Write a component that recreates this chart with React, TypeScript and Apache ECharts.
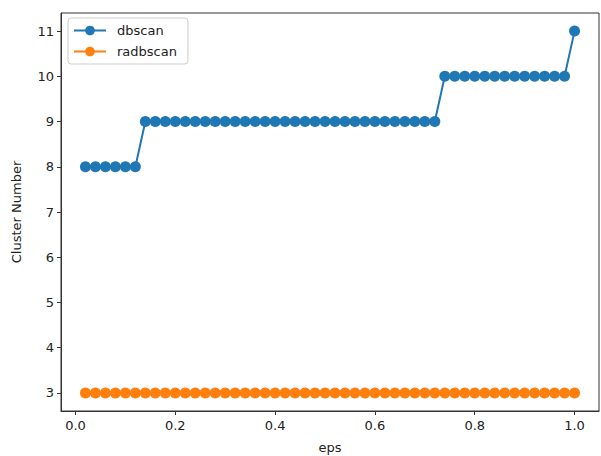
import React, { useEffect, useRef } from "react";
import * as echarts from "echarts";

const eps = [
  0.02, 0.04, 0.06, 0.08, 0.1, 0.12, 0.14, 0.16, 0.18, 0.2,
  0.22, 0.24, 0.26, 0.28, 0.3, 0.32, 0.34, 0.36, 0.38, 0.4,
  0.42, 0.44, 0.46, 0.48, 0.5, 0.52, 0.54, 0.56, 0.58, 0.6,
  0.62, 0.64, 0.66, 0.68, 0.7, 0.72, 0.74, 0.76, 0.78, 0.8,
  0.82, 0.84, 0.86, 0.88, 0.9, 0.92, 0.94, 0.96, 0.98, 1.0,
];
const dbscan = [
  8, 8, 8, 8, 8, 8, 9, 9, 9, 9,
  9, 9, 9, 9, 9, 9, 9, 9, 9, 9,
  9, 9, 9, 9, 9, 9, 9, 9, 9, 9,
  9, 9, 9, 9, 9, 9, 10, 10, 10, 10,
  10, 10, 10, 10, 10, 10, 10, 10, 10, 11,
];
const radbscan = [
  3, 3, 3, 3, 3, 3, 3, 3, 3, 3,
  3, 3, 3, 3, 3, 3, 3, 3, 3, 3,
  3, 3, 3, 3, 3, 3, 3, 3, 3, 3,
  3, 3, 3, 3, 3, 3, 3, 3, 3, 3,
  3, 3, 3, 3, 3, 3, 3, 3, 3, 3,
];
const xTicks = [0, 0.2, 0.4, 0.6, 0.8, 1.0];
const yTicks = [3, 4, 5, 6, 7, 8, 9, 10, 11];

const FONT = "DejaVu Sans";

export default function App() {
  const ref = useRef<HTMLDivElement>(null);
  useEffect(() => {
    document.body.style.margin = "0";
    const chart = echarts.init(ref.current!, null, { renderer: "svg" });
    const mk = (name: string, ys: number[], color: string) => ({
      name,
      type: "line",
      data: eps.map((x, i) => [x, ys[i]]),
      symbol: "circle",
      symbolSize: 11,
      showSymbol: true,
      lineStyle: { color, width: 2 },
      itemStyle: { color, borderWidth: 0 },
      emphasis: { disabled: true },
    });
    chart.setOption({
      animation: false,
      backgroundColor: "#ffffff",
      grid: {
        left: 61,
        right: 2,
        top: 13,
        bottom: 45,
        containLabel: false,
        outerBoundsMode: "none",
        show: true,
        borderColor: "#333",
        borderWidth: 1,
        backgroundColor: "transparent",
      },
      legend: {
        orient: "vertical",
        left: 68,
        top: 18,
        padding: [6, 11, 6, 5],
        itemGap: 8,
        itemWidth: 32,
        itemHeight: 12,
        backgroundColor: "#fff",
        borderColor: "#ccc",
        borderWidth: 1,
        borderRadius: 3,
        textStyle: { fontFamily: FONT, fontSize: 13, color: "#222", padding: [0, 0, 0, 6] },
        data: ["dbscan", "radbscan"],
      },
      xAxis: {
        type: "value",
        min: -0.029,
        max: 1.049,
        name: "eps",
        nameLocation: "middle",
        nameGap: 30,
        nameTextStyle: { fontFamily: FONT, fontSize: 13, color: "#222" },
        splitLine: { show: false },
        axisLine: { show: true, onZero: false, lineStyle: { color: "#333", width: 1 } },
        axisTick: { show: true, inside: false, length: 4, lineStyle: { color: "#333" }, customValues: xTicks },
        axisLabel: {
          fontFamily: FONT,
          fontSize: 13,
          color: "#222",
          margin: 8,
          customValues: xTicks,
          formatter: (v: number) => v.toFixed(1),
        },
      },
      yAxis: {
        type: "value",
        min: 2.6,
        max: 11.4,
        name: "Cluster Number",
        nameLocation: "middle",
        nameGap: 38,
        nameTextStyle: { fontFamily: FONT, fontSize: 13, color: "#222" },
        splitLine: { show: false },
        axisLine: { show: true, onZero: false, lineStyle: { color: "#333", width: 1 } },
        axisTick: { show: true, inside: false, length: 4, lineStyle: { color: "#333" }, customValues: yTicks },
        axisLabel: {
          fontFamily: FONT,
          fontSize: 13,
          color: "#222",
          margin: 7,
          customValues: yTicks,
          formatter: (v: number) => String(Math.round(v)),
        },
      },
      series: [mk("dbscan", dbscan, "#1f77b4"), mk("radbscan", radbscan, "#ff7f0e")],
    });
    return () => chart.dispose();
  }, []);
  return <div ref={ref} style={{ width: 601, height: 456 }} />;
}
